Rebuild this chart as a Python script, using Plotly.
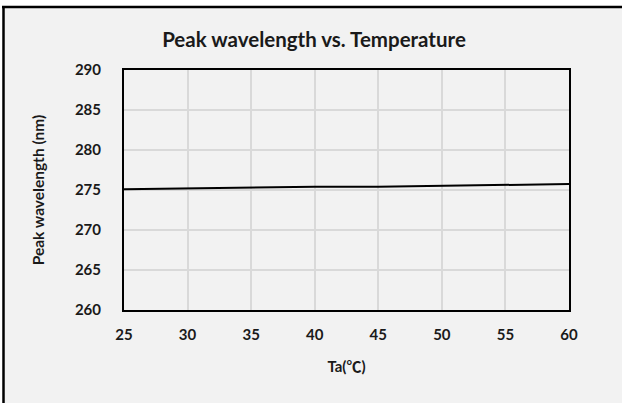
import plotly.graph_objects as go

temps = [25, 30, 35, 40, 45, 50, 55, 60]
peak_nm = [275.1, 275.2, 275.3, 275.4, 275.4, 275.5, 275.6, 275.75]
x_ticks = [25, 30, 35, 40, 45, 50, 55, 60]
y_ticks = [260, 265, 270, 275, 280, 285, 290]

W, H = 622, 403
L, R, T, B = 124, 53, 70, 93
pw, ph = W - L - R, H - T - B

FONT = "Lato"
TXT = "#1a1a1a"

fig = go.Figure()
fig.add_trace(go.Scatter(x=temps, y=peak_nm, mode="lines",
                         line=dict(color="black", width=2), showlegend=False))

def px2x(p):
    return (p - L) / pw

def py2y(p):
    return (H - B - p) / ph

fig.update_layout(
    width=W, height=H,
    margin=dict(l=L, r=R, t=T, b=B),
    paper_bgcolor="white",
    plot_bgcolor="#f2f2f2",
    font=dict(family=FONT, color=TXT),
    title=dict(text="<b>Peak wavelength vs. Temperature</b>",
               x=314 / W, xanchor="center", y=1 - 39.5 / H, yanchor="middle",
               font=dict(size=20.5, family=FONT, color=TXT)),
    shapes=[
        dict(type="rect", xref="paper", yref="paper",
             x0=px2x(3), x1=px2x(W + 20), y0=py2y(H + 20), y1=py2y(7),
             line=dict(width=0), fillcolor="#f2f2f2", layer="below"),
        dict(type="line", xref="paper", yref="paper",
             x0=px2x(2), x1=px2x(W + 20), y0=py2y(7), y1=py2y(7),
             line=dict(color="black", width=2.5), layer="below"),
        dict(type="line", xref="paper", yref="paper",
             x0=px2x(3.5), x1=px2x(3.5), y0=py2y(H + 20), y1=py2y(6),
             line=dict(color="black", width=2.5), layer="below"),
    ],
)

fig.update_xaxes(range=[25, 60], tickvals=x_ticks,
                 ticktext=[f"<b>{v}</b>" for v in x_ticks],
                 showgrid=True, gridcolor="#d9d9d9", gridwidth=1.5,
                 showline=True, linecolor="black", linewidth=2, mirror=True,
                 zeroline=False, ticks="", ticklabelstandoff=10,
                 tickfont=dict(size=15, family=FONT, color=TXT),
                 title=dict(text="<b>Ta(℃)</b>", standoff=19,
                            font=dict(size=15, family="Lato, 'Noto Sans CJK SC'", color=TXT)))
fig.update_yaxes(range=[260, 290], tickvals=y_ticks,
                 ticktext=[f"<b>{v}</b>" for v in y_ticks],
                 showgrid=True, gridcolor="#d9d9d9", gridwidth=1.5,
                 showline=True, linecolor="black", linewidth=2, mirror=True,
                 zeroline=False, ticks="", ticklabelstandoff=18,
                 tickfont=dict(size=15, family=FONT, color=TXT),
                 title=dict(text="<b>Peak wavelength (nm)</b>", standoff=26,
                            font=dict(size=15.5, family=FONT, color=TXT)))

fig.write_html("out.html",
               config={"displayModeBar": False},
               post_script="document.body.style.margin='0';document.body.style.overflow='hidden';")
